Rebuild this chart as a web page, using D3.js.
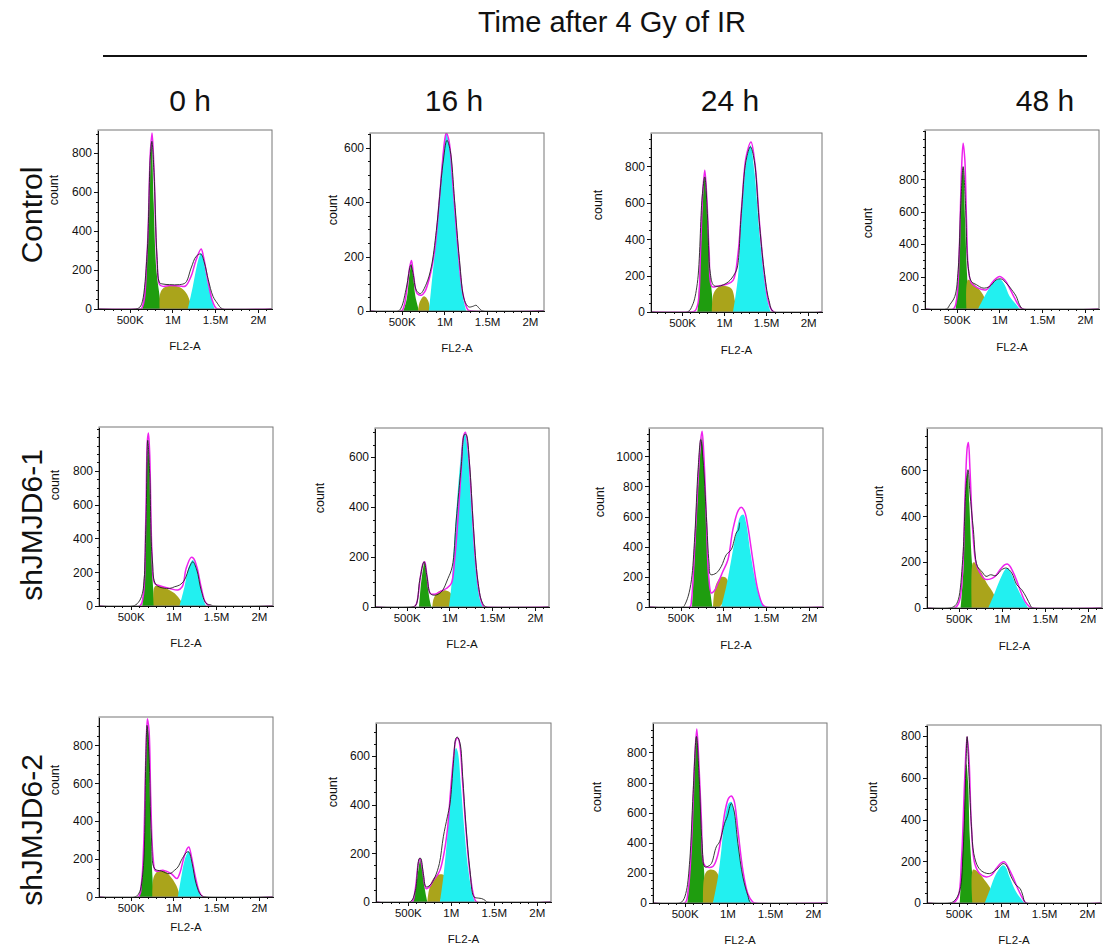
<!DOCTYPE html>
<html lang="en">
<head>
<meta charset="utf-8">
<title>Cell cycle profiles after 4 Gy of IR</title>
<script src="https://cdn.jsdelivr.net/npm/d3@7"></script>
<style>
  body { margin: 0; background: #fff; }
  text { font-family: "Liberation Sans", Arial, sans-serif; fill: #111; }
  .axis path, .axis line { stroke: #111; shape-rendering: crispEdges; }
</style>
</head>
<body>
<svg id="fig" width="1105" height="947"></svg>
<script>
// ---- labels ----
var titleText = "Time after 4 Gy of IR";
var colLabels = ["0 h", "16 h", "24 h", "48 h"];
var rowLabels = ["Control", "shJMJD6-1", "shJMJD6-2"];

// ---- x axis (FL2-A, in thousands) ----
var xDomain = [130, 2165];
var xTickVals = [500, 1000, 1500, 2000];
var xTickText = ["500K", "1M", "1.5M", "2M"];

// ---- y axis per panel (row by row) ----
var yMax = [918, 654, 983, 1104, 1060, 716, 1188, 785, 949, 735, 1196, 853];
var yTickVals = [
  [0,200,400,600,800], [0,200,400,600], [0,200,400,600,800], [0,200,400,600,800],
  [0,200,400,600,800], [0,200,400,600], [0,200,400,600,800,1000], [0,200,400,600],
  [0,200,400,600,800], [0,200,400,600], [0,200,400,600,800,1000], [0,200,400,600,800]
];
var yTickText = [null, null, null, null, null, null, null, null, null, null,
  ["0","200","400","600","800","800"], null];

// ---- G1 (green) fill, [FL2-A (K), count] ----
var g1Fill = [
  [[650,0],[704,253],[735,629],[758,860],[781,544],[812,202],[851,65],[870,0]],
  [[520,0],[560,45],[590,130],[615,174],[635,130],[660,55],[704,0]],
  [[681,0],[688,27],[720,320],[743,595],[770,742],[793,595],[820,320],[855,101],[875,0]],
  [[491,0],[530,345],[557,755],[576,878],[599,550],[623,201],[654,0]],
  [[638,0],[677,410],[696,902],[704,942],[715,863],[739,410],[762,114],[781,0]],
  [[646,0],[673,107],[711,177],[739,107],[770,27],[789,0]],
  [[634,0],[665,358],[704,801],[735,1066],[751,1130],[774,912],[801,535],[840,137],[871,0]],
  [[522,0],[553,167],[580,530],[603,589],[622,458],[650,211],[688,36],[700,0]],
  [[607,0],[646,158],[673,545],[692,896],[704,879],[723,545],[746,193],[770,0]],
  [[564,0],[611,103],[642,172],[653,179],[673,130],[700,48],[727,0]],
  [[533,0],[572,284],[611,840],[638,1107],[649,1096],[669,840],[696,507],[727,218],[754,0]],
  [[514,0],[545,253],[572,525],[591,669],[611,573],[630,317],[661,125],[688,0]]
];

// ---- S phase (olive) fill ----
var sFill = [
  [[851,0],[859,82],[909,111],[1006,121],[1103,108],[1173,74],[1231,0]],
  [[692,0],[712,33],[762,54],[809,39],[836,0]],
  [[855,0],[875,101],[933,137],[1010,143],[1088,128],[1127,64],[1146,0]],
  [[615,0],[634,180],[731,139],[809,88],[867,0]],
  [[770,0],[781,114],[840,120],[917,104],[1014,75],[1092,26],[1119,0]],
  [[801,0],[816,33],[867,60],[925,67],[1002,60],[1033,40],[1041,0]],
  [[879,0],[890,82],[921,159],[976,199],[1022,197],[1061,159],[1053,93],[1007,38],[956,0]],
  [[650,0],[661,196],[677,199],[746,167],[824,109],[909,58],[932,0]],
  [[754,0],[770,105],[820,137],[878,141],[956,114],[1033,62],[1080,0]],
  [[727,0],[746,48],[797,96],[874,114],[933,107],[921,62],[874,0]],
  [[715,0],[723,151],[754,207],[805,222],[870,207],[909,151],[882,73],[832,0]],
  [[661,0],[669,160],[727,149],[805,109],[882,61],[909,0]]
];

// ---- G2 (cyan) fill ----
var g2Fill = [
  [[1181,0],[1239,116],[1285,219],[1316,270],[1336,287],[1363,253],[1413,133],[1464,48],[1491,0]],
  [[820,0],[847,88],[886,211],[925,358],[964,517],[1003,629],[1022,651],[1061,602],[1099,455],[1138,296],[1177,149],[1216,51],[1255,0]],
  [[1107,0],[1165,192],[1204,504],[1262,815],[1313,916],[1359,778],[1417,449],[1476,192],[1514,64],[1553,0]],
  [[751,0],[848,98],[925,160],[1003,185],[1061,150],[1119,78],[1197,27],[1235,0]],
  [[1072,0],[1130,114],[1169,213],[1208,262],[1227,272],[1266,232],[1305,134],[1351,35],[1382,0]],
  [[995,0],[1022,80],[1049,214],[1080,375],[1119,549],[1157,670],[1181,697],[1216,616],[1254,415],[1293,214],[1332,80],[1359,27],[1390,0]],
  [[976,0],[1034,137],[1092,314],[1150,491],[1200,602],[1235,613],[1266,558],[1317,358],[1371,181],[1433,49],[1480,0]],
  [[843,0],[901,51],[979,124],[1037,167],[1064,174],[1095,160],[1173,94],[1250,36],[1308,0]],
  [[1053,0],[1092,105],[1130,193],[1169,237],[1181,243],[1208,193],[1266,88],[1305,26],[1324,0]],
  [[874,0],[913,103],[952,240],[991,405],[1030,556],[1060,632],[1080,618],[1115,488],[1154,309],[1204,130],[1254,27],[1281,0]],
  [[832,0],[890,173],[929,351],[967,551],[1014,662],[1045,673],[1076,618],[1123,396],[1181,173],[1239,51],[1278,0]],
  [[805,0],[863,61],[940,141],[1018,181],[1049,173],[1095,125],[1173,53],[1270,0]]
];

// ---- model fit (magenta) ----
var fitCurve = [
  [[130,0],[580,0],[638,3],[704,287],[742,800],[762,902],[785,715],[820,253],[851,125],[890,116],[967,121],[1084,118],[1154,118],[1219,168],[1278,253],[1336,308],[1363,270],[1413,150],[1464,48],[1510,5],[1549,0],[2165,0]],
  [[130,0],[499,0],[530,20],[564,88],[595,162],[615,186],[642,125],[681,64],[731,58],[770,70],[828,125],[886,223],[944,419],[1003,627],[1022,654],[1053,627],[1099,468],[1158,235],[1216,64],[1274,5],[1313,0],[2165,0]],
  [[130,0],[584,0],[650,5],[688,45],[720,345],[745,650],[770,778],[795,620],[822,330],[855,140],[913,141],[1030,152],[1107,174],[1165,320],[1212,595],[1262,852],[1320,934],[1367,815],[1425,467],[1483,192],[1534,46],[1592,0],[2165,0]],
  [[130,0],[460,0],[499,57],[530,345],[557,857],[576,1022],[596,919],[615,550],[638,242],[673,160],[751,129],[848,119],[925,170],[1003,201],[1061,180],[1119,129],[1177,68],[1235,16],[1274,0],[2165,0]],
  [[130,0],[607,0],[646,55],[677,508],[696,981],[708,1025],[723,902],[750,311],[781,134],[840,120],[956,104],[1053,95],[1103,114],[1150,223],[1208,288],[1235,282],[1274,232],[1324,114],[1371,26],[1421,0],[2165,0]],
  [[130,0],[584,0],[615,13],[661,120],[692,174],[711,181],[739,120],[777,54],[828,51],[906,64],[964,74],[1022,94],[1061,188],[1099,348],[1138,549],[1165,683],[1188,699],[1219,630],[1262,415],[1305,188],[1351,54],[1398,3],[1429,0],[2165,0]],
  [[130,0],[607,0],[627,49],[665,403],[704,845],[735,1111],[751,1166],[774,978],[801,580],[828,204],[859,93],[890,104],[937,159],[995,237],[1053,314],[1111,513],[1169,635],[1208,662],[1247,635],[1286,535],[1344,314],[1402,115],[1460,15],[1499,0],[2165,0]],
  [[130,0],[456,0],[506,29],[545,167],[576,530],[599,704],[611,722],[630,603],[661,342],[700,196],[746,153],[804,126],[862,126],[921,138],[979,167],[1037,189],[1064,192],[1095,182],[1153,138],[1212,80],[1270,29],[1328,4],[1367,0],[2165,0]],
  [[130,0],[588,0],[626,70],[653,281],[677,721],[696,940],[715,879],[735,527],[762,211],[793,137],[878,141],[975,123],[1041,97],[1080,132],[1119,202],[1161,255],[1181,264],[1212,211],[1258,105],[1305,26],[1351,0],[2165,0]],
  [[130,0],[545,0],[584,48],[622,158],[642,179],[673,130],[712,55],[750,62],[797,89],[843,110],[874,130],[913,185],[960,295],[998,460],[1037,611],[1060,666],[1084,673],[1107,639],[1138,488],[1177,295],[1223,117],[1270,21],[1301,0],[2165,0]],
  [[130,0],[502,0],[541,84],[580,396],[618,951],[642,1156],[665,951],[696,551],[723,262],[754,240],[832,244],[882,307],[929,440],[975,618],[1014,696],[1045,711],[1076,684],[1123,484],[1181,218],[1239,62],[1297,7],[1324,0],[2165,0]],
  [[130,0],[436,0],[494,29],[533,205],[572,605],[599,797],[622,685],[650,365],[688,189],[746,141],[824,125],[882,133],[940,165],[998,192],[1037,197],[1076,173],[1134,125],[1192,69],[1250,21],[1289,0],[2165,0]]
];

// ---- measured histogram (black) ----
var rawCurve = [
  [[130,0],[570,0],[620,10],[650,40],[704,280],[742,780],[760,860],[785,700],[820,270],[851,135],[890,128],[967,125],[1084,125],[1154,135],[1219,210],[1278,270],[1332,282],[1375,236],[1420,150],[1475,65],[1525,30],[1588,0],[2165,0]],
  [[130,0],[460,0],[499,15],[557,88],[607,168],[634,137],[673,76],[720,64],[789,100],[847,162],[906,296],[983,541],[1030,627],[1068,590],[1119,407],[1177,186],[1235,39],[1285,15],[1332,17],[1371,21],[1410,9],[1449,0],[2165,0]],
  [[130,0],[564,0],[623,37],[681,156],[739,632],[770,742],[801,540],[836,211],[875,147],[933,141],[1049,165],[1127,211],[1158,247],[1204,540],[1262,833],[1313,907],[1359,833],[1417,504],[1476,229],[1534,64],[1592,0],[2165,0]],
  [[130,0],[382,0],[421,27],[479,78],[518,242],[549,652],[576,878],[603,652],[634,263],[673,170],[731,150],[809,129],[886,139],[964,180],[1022,185],[1080,160],[1158,109],[1197,78],[1235,27],[1274,0],[2165,0]],
  [[130,0],[529,0],[588,20],[638,75],[677,449],[700,981],[723,784],[754,272],[801,124],[956,104],[1014,114],[1072,124],[1130,154],[1189,232],[1227,262],[1274,213],[1324,95],[1382,16],[1440,6],[1467,0],[2165,0]],
  [[130,0],[557,0],[607,7],[653,107],[704,181],[739,120],[777,54],[828,47],[906,60],[983,114],[1033,161],[1080,348],[1138,563],[1177,690],[1196,690],[1235,576],[1281,321],[1332,107],[1382,20],[1429,0],[2165,0]],
  [[130,0],[530,0],[549,15],[588,71],[627,181],[665,469],[704,912],[735,1111],[762,978],[801,602],[832,292],[851,215],[918,226],[976,270],[1034,347],[1092,381],[1150,491],[1177,513],[1190,560]],
  [[130,0],[398,0],[456,10],[494,36],[545,211],[584,530],[607,603],[630,501],[669,342],[715,182],[766,160],[816,138],[870,145],[932,141],[998,167],[1056,174],[1115,153],[1173,102],[1231,80],[1289,44],[1328,15],[1359,0],[2165,0]],
  [[130,0],[549,0],[599,21],[646,141],[677,721],[692,905],[715,756],[743,316],[781,149],[859,137],[956,123],[1014,141],[1053,158],[1103,202],[1158,237],[1181,237],[1220,176],[1266,70],[1324,9],[1382,0],[2165,0]],
  [[130,0],[525,0],[584,41],[634,179],[650,179],[680,117],[712,62],[758,69],[816,103],[867,158],[913,268],[960,350],[991,405],[1030,570],[1060,673],[1076,677],[1107,652],[1138,515],[1177,309],[1223,130],[1270,21],[1320,16],[1359,14],[1398,7],[1425,0],[2165,0]],
  [[130,0],[444,0],[483,18],[522,84],[560,284],[599,729],[638,1107],[669,840],[704,396],[735,240],[774,244],[812,262],[870,373],[909,407],[967,529],[998,573],[1045,662],[1076,618],[1123,396],[1181,173],[1239,51],[1278,0],[2165,0]],
  [[130,0],[398,0],[456,13],[514,61],[553,253],[584,637],[599,797],[622,605],[650,365],[677,237],[727,173],[785,149],[863,141],[940,160],[1018,189],[1057,181],[1115,125],[1173,85],[1220,69],[1250,37],[1289,0],[2165,0]]
];

// ---- layout: plot box [left, top, right, zero line] and "count" label centre ----
var boxes = [
  [98,130,272,309], [370,133,544,311], [651,133,822,312], [925,130,1099,309],
  [99,427,273,606], [375,428,549,607], [649,428,823,607], [927,428,1102,608],
  [99,717,273,897], [376,723,551,902], [653,723,827,903], [927,725,1101,903]
];
var countPos = [
  [54,190], [333,210], [598,205], [868,223],
  [55,485], [320,498], [600,502], [879,501],
  [55,780], [333,792], [597,797], [873,797]
];
var fl2Offset = [37,37,38,38, 37,37,38,38, 30,37,37,37];

var colors = { g1: "#1f9d0f", s: "#aaa41b", g2: "#22f0f0", fit: "#ee22ee", raw: "#222" };

var svg = d3.select("#fig");

// title + rule
svg.append("text").attr("x", 612).attr("y", 32).attr("text-anchor", "middle")
  .style("font-size", "29px").text(titleText);
svg.append("line").attr("x1", 103).attr("x2", 1087).attr("y1", 56).attr("y2", 56)
  .attr("stroke", "#111").attr("stroke-width", 2);

// column headers
var colX = [190, 454, 730, 1045];
colLabels.forEach(function(t, i) {
  svg.append("text").attr("x", colX[i]).attr("y", 111).attr("text-anchor", "middle")
    .style("font-size", "30px").text(t);
});

// row labels
var rowY = [215, 525, 830];
rowLabels.forEach(function(t, i) {
  svg.append("text").attr("transform", "translate(31," + rowY[i] + ") rotate(-90)")
    .attr("text-anchor", "middle").attr("dy", "0.35em")
    .style("font-size", "30px").text(t);
});

var shape = function(x, y) {
  return d3.line().x(function(d) { return x(d[0]); }).y(function(d) { return y(d[1]); })
    .curve(d3.curveCatmullRom.alpha(0.5));
};

boxes.forEach(function(b, i) {
  var w = b[2] - b[0], h = b[3] - b[1];
  var g = svg.append("g").attr("transform", "translate(" + b[0] + "," + b[1] + ")");

  var x = d3.scaleLinear().domain(xDomain).range([0, w]);
  var y = d3.scaleLinear().domain([0, yMax[i]]).range([h, 0]);
  var line = shape(x, y);

  g.append("clipPath").attr("id", "clip" + i)
    .append("rect").attr("x", 0).attr("y", 0).attr("width", w).attr("height", h + 1);
  var plot = g.append("g").attr("clip-path", "url(#clip" + i + ")");

  // phase fills
  [[g1Fill, colors.g1], [sFill, colors.s], [g2Fill, colors.g2]].forEach(function(p) {
    plot.append("path").attr("d", line(p[0][i]) + "Z").attr("fill", p[1]).attr("stroke", "none");
  });

  // fit + raw histogram
  plot.append("path").attr("d", line(fitCurve[i])).attr("fill", "none")
    .attr("stroke", colors.fit).attr("stroke-width", 1.5);
  plot.append("path").attr("d", line(rawCurve[i])).attr("fill", "none")
    .attr("stroke", colors.raw).attr("stroke-width", 0.9);

  // frame
  g.append("rect").attr("width", w).attr("height", h).attr("fill", "none")
    .attr("stroke", "#777").attr("stroke-width", 1);

  // y axis: minor then major
  g.append("g").attr("class", "axis")
    .call(d3.axisLeft(y).tickValues(d3.range(0, yMax[i], 50)).tickSize(2).tickFormat("").tickSizeOuter(0));
  var labels = yTickText[i];
  var ya = g.append("g").attr("class", "axis")
    .call(d3.axisLeft(y).tickValues(yTickVals[i]).tickSize(4).tickSizeOuter(0).tickPadding(2)
      .tickFormat(function(d, k) { return labels ? labels[k] : String(d); }));
  ya.select(".domain").remove();
  ya.selectAll("text").attr("font-family", null).attr("font-size", null)
    .style("font-size", "12px").style("fill", "#111");

  // x axis: minor then major
  var xg = g.append("g").attr("class", "axis").attr("transform", "translate(0," + h + ")");
  xg.call(d3.axisBottom(x).tickValues(d3.range(200, xDomain[1], 100)).tickSize(2).tickFormat("").tickSizeOuter(0));
  xg.select(".domain").attr("stroke-width", 1.5);
  var xa = g.append("g").attr("class", "axis").attr("transform", "translate(0," + h + ")")
    .call(d3.axisBottom(x).tickValues(xTickVals).tickSize(4).tickSizeOuter(0).tickPadding(3)
      .tickFormat(function(d, k) { return xTickText[k]; }));
  xa.select(".domain").remove();
  xa.selectAll("text").attr("font-family", null).attr("font-size", null)
    .style("font-size", "11.5px").style("fill", "#111");

  // axis titles
  g.append("text").attr("x", w / 2).attr("y", h + fl2Offset[i]).attr("dy", "0.35em")
    .attr("text-anchor", "middle").style("font-size", "11.5px").text("FL2-A");
  svg.append("text")
    .attr("transform", "translate(" + countPos[i][0] + "," + countPos[i][1] + ") rotate(-90)")
    .attr("text-anchor", "middle").attr("dy", "0.35em").style("font-size", "12.5px").text("count");
});
</script>
</body>
</html>
